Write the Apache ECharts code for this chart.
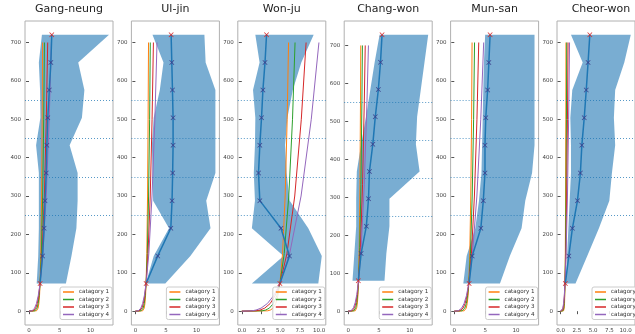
<!DOCTYPE html>
<html><head><meta charset="utf-8">
<script src="https://cdn.jsdelivr.net/npm/echarts@6/dist/echarts.min.js"></script>
<style>html,body{margin:0;padding:0;background:#fff}#c{width:635px;height:334px}</style>
</head><body><div id="c"></div>
<script>
// ---------------- data ----------------
const stations = ['Gang-neung', 'Ul-jin', 'Won-ju', 'Chang-won', 'Mun-san', 'Cheor-won'];
const categories = ['catagory 1', 'catagory 2', 'catagory 3', 'catagory 4'];
const yTickValues = [0, 100, 200, 300, 400, 500, 600, 700];
const xTicksWide = [0, 5, 10];
const xTicksNarrow = [0, 2.5, 5, 7.5, 10];

// measurement heights (y) of the mean profile and spread band
const levelsStd = [72, 144, 216, 288, 360, 432, 504, 576, 648, 720];
const levelsChangwon = [80, 152, 224, 296, 368, 440, 512, 584, 656, 728];
// heights (y) at which category profile curves were read
const curveZStd = [0, 1, 3, 8, 20, 40, 72, 150, 300, 500, 700];
const curveZChangwon = [0, 1, 3, 9, 22, 44, 80, 167, 333, 556, 700];

// Gang-neung
const meanGangneung = [1.8, 2.2, 2.45, 2.6, 2.8, 2.9, 3.05, 3.3, 3.55, 3.7];
const lowGangneung  = [1.25, 1.5, 1.6, 1.6, 1.6, 1.15, 1.85, 1.8, 1.6, 2.1];
const highGangneung = [6.0, 6.9, 7.7, 7.9, 7.9, 6.6, 8.6, 9.0, 8.0, 13.0];
const cat1Gangneung = [0, 1.22, 1.35, 1.48, 1.60, 1.71, 1.80, 1.92, 2.05, 2.14, 2.21];
const cat2Gangneung = [0, 0.96, 1.13, 1.30, 1.49, 1.65, 1.80, 2.01, 2.22, 2.39, 2.51];
const cat3Gangneung = [0, 0.67, 0.87, 1.09, 1.34, 1.57, 1.80, 2.13, 2.50, 2.81, 3.04];
const cat4Gangneung = [0, 0.48, 0.67, 0.91, 1.21, 1.50, 1.80, 2.26, 2.80, 3.28, 3.64];

// Ul-jin
const meanUljin = [1.75, 3.66, 5.8, 6.0, 6.1, 6.17, 6.17, 6.07, 5.96, 5.85];
const lowUljin  = [1.7, 3.0, 5.5, 2.9, 2.8, 2.7, 3.0, 4.0, 4.6, 2.8];
const highUljin = [4.9, 9.0, 12.3, 11.6, 13.1, 13.1, 13.1, 13.1, 11.5, 11.3];
const cat1Uljin = [0, 1.19, 1.31, 1.44, 1.56, 1.66, 1.75, 1.87, 1.99, 2.08, 2.15];
const cat2Uljin = [0, 0.93, 1.10, 1.27, 1.45, 1.60, 1.75, 1.95, 2.16, 2.33, 2.44];
const cat3Uljin = [0, 0.65, 0.84, 1.06, 1.30, 1.53, 1.75, 2.07, 2.43, 2.73, 2.95];
const cat4Uljin = [0, 0.47, 0.65, 0.89, 1.18, 1.46, 1.75, 2.20, 2.72, 3.19, 3.54];

// Won-ju
const meanWonju = [4.93, 6.17, 5.07, 2.33, 2.16, 2.33, 2.55, 2.73, 3.0, 3.2];
const lowWonju  = [1.3, 5.4, 1.3, 1.7, 1.55, 1.7, 1.75, 1.45, 2.3, 1.75];
const highWonju = [9.9, 10.35, 8.6, 6.2, 5.8, 5.6, 5.9, 6.6, 7.7, 9.3];
const cat1Wonju = [0, 3.35, 3.70, 4.05, 4.39, 4.67, 4.93, 5.27, 5.61, 5.87, 6.05];
const cat2Wonju = [0, 2.63, 3.09, 3.57, 4.08, 4.52, 4.93, 5.49, 6.08, 6.56, 6.89];
const cat3Wonju = [0, 1.84, 2.37, 2.97, 3.67, 4.30, 4.93, 5.84, 6.85, 7.70, 8.32];
const cat4Wonju = [0, 1.31, 1.84, 2.49, 3.31, 4.11, 4.93, 6.19, 7.67, 8.99, 9.98];

// Chang-won
const meanChangwon = [1.64, 2.1, 2.95, 3.3, 3.45, 4.0, 4.4, 4.9, 5.25, 5.5];
const lowChangwon  = [0.7, 1.0, 1.3, 1.3, 1.4, 2.1, 2.9, 3.6, 4.3, 5.1];
const highChangwon = [5.9, 6.2, 6.7, 6.7, 11.6, 11.0, 11.2, 11.8, 12.4, 13.0];
const cat1Changwon = [0, 1.14, 1.26, 1.38, 1.50, 1.59, 1.68, 1.79, 1.91, 2.00, 2.04];
const cat2Changwon = [0, 0.90, 1.05, 1.22, 1.39, 1.54, 1.68, 1.87, 2.07, 2.23, 2.31];
const cat3Changwon = [0, 0.63, 0.81, 1.01, 1.25, 1.47, 1.68, 1.99, 2.33, 2.62, 2.77];
const cat4Changwon = [0, 0.45, 0.63, 0.85, 1.13, 1.40, 1.68, 2.11, 2.61, 3.06, 3.29];

// Mun-san
const meanMunsan = [2.4, 2.9, 4.3, 4.7, 4.97, 4.97, 5.1, 5.4, 5.6, 5.8];
const lowMunsan  = [1.46, 2.0, 3.4, 4.0, 4.4, 4.5, 4.6, 4.7, 4.8, 5.0];
const highMunsan = [7.4, 9.0, 10.9, 11.5, 12.6, 13.0, 13.0, 13.0, 13.0, 13.0];
const cat1Munsan = [0, 1.60, 1.76, 1.93, 2.09, 2.23, 2.35, 2.51, 2.67, 2.80, 2.88];
const cat2Munsan = [0, 1.25, 1.47, 1.70, 1.95, 2.15, 2.35, 2.62, 2.90, 3.13, 3.28];
const cat3Munsan = [0, 0.88, 1.13, 1.42, 1.75, 2.05, 2.35, 2.78, 3.26, 3.67, 3.96];
const cat4Munsan = [0, 0.63, 0.88, 1.19, 1.58, 1.96, 2.35, 2.95, 3.66, 4.29, 4.76];

// Cheor-won
const meanCheorwon = [0.73, 1.27, 1.82, 2.6, 3.05, 3.27, 3.64, 3.95, 4.23, 4.5];
const lowCheorwon  = [0.75, 1.0, 1.2, 1.4, 1.6, 1.6, 1.5, 1.8, 3.4, 1.6];
const highCheorwon = [2.3, 4.1, 5.9, 7.5, 7.9, 8.4, 8.2, 8.4, 9.8, 10.8];
const cat1Cheorwon = [0, 0.46, 0.51, 0.56, 0.61, 0.64, 0.68, 0.73, 0.77, 0.81, 0.83];
const cat2Cheorwon = [0, 0.36, 0.43, 0.49, 0.56, 0.62, 0.68, 0.76, 0.84, 0.90, 0.95];
const cat3Cheorwon = [0, 0.25, 0.33, 0.41, 0.51, 0.59, 0.68, 0.81, 0.94, 1.06, 1.15];
const cat4Cheorwon = [0, 0.18, 0.25, 0.34, 0.46, 0.57, 0.68, 0.85, 1.06, 1.24, 1.38];

const refLines = [250, 350, 450, 550];

// ---------------- assembly ----------------
const panels = [
  {levels: levelsStd, z: curveZStd, mean: meanGangneung, low: lowGangneung, high: highGangneung, cats: [cat1Gangneung, cat2Gangneung, cat3Gangneung, cat4Gangneung]},
  {levels: levelsStd, z: curveZStd, mean: meanUljin, low: lowUljin, high: highUljin, cats: [cat1Uljin, cat2Uljin, cat3Uljin, cat4Uljin]},
  {levels: levelsStd, z: curveZStd, mean: meanWonju, low: lowWonju, high: highWonju, cats: [cat1Wonju, cat2Wonju, cat3Wonju, cat4Wonju]},
  {levels: levelsChangwon, z: curveZChangwon, mean: meanChangwon, low: lowChangwon, high: highChangwon, cats: [cat1Changwon, cat2Changwon, cat3Changwon, cat4Changwon]},
  {levels: levelsStd, z: curveZStd, mean: meanMunsan, low: lowMunsan, high: highMunsan, cats: [cat1Munsan, cat2Munsan, cat3Munsan, cat4Munsan]},
  {levels: levelsStd, z: curveZStd, mean: meanCheorwon, low: lowCheorwon, high: highCheorwon, cats: [cat1Cheorwon, cat2Cheorwon, cat3Cheorwon, cat4Cheorwon]}
];

// layout (pixels / axis extents)
const gridLeft = [25, 131.4, 237.8, 344.2, 450.6, 557];
const gridW = 88, gridTop = 21, gridH = 304;
const xMin = [-0.65, -0.655, -0.52, -0.65, -0.6, -0.55];
const xMax = [13.65, 13.755, 10.87, 13.65, 13.66, 11.45];
const yMin = [-36, -36, -36, -36.4, -36, -36];
const yMax = [756, 756, 756, 764.4, 756, 756];
const xTickSets = [xTicksWide, xTicksWide, xTicksNarrow, xTicksWide, xTicksWide, xTicksNarrow];
const catColors = ['#ff7f0e', '#2ca02c', '#d62728', '#9467bd'];
const FONT = 'DejaVu Sans';
const xSymbol = 'path://M1,0 L5,4 L9,0 L10,1 L6,5 L10,9 L9,10 L5,6 L1,10 L0,9 L4,5 L0,1 Z';

const series = [];
panels.forEach((p, i) => {
  series.push({
    type: 'custom', xAxisIndex: i, yAxisIndex: i, silent: true, z: 1,
    data: [[p.low[0], p.levels[0]]],
    renderItem: function (params, api) {
      const pts = [];
      for (let j = 0; j < p.levels.length; j++) pts.push(api.coord([p.low[j], p.levels[j]]));
      for (let j = p.levels.length - 1; j >= 0; j--) pts.push(api.coord([p.high[j], p.levels[j]]));
      return {type: 'polygon', shape: {points: pts}, style: {fill: 'rgba(31,119,180,0.6)'}};
    }
  });
  p.cats.forEach((c, k) => {
    series.push({
      type: 'line', name: categories[k], xAxisIndex: i, yAxisIndex: i, z: 3,
      data: c.map((x, j) => [x, p.z[j]]),
      showSymbol: false, symbol: 'none', smooth: false,
      lineStyle: {color: catColors[k], width: 1}, itemStyle: {color: catColors[k]}
    });
  });
  series.push({
    type: 'line', name: 'mean', xAxisIndex: i, yAxisIndex: i, z: 4,
    data: p.mean.map((x, j) => ({
      value: [x, p.levels[j]],
      itemStyle: {color: (j === p.levels.length - 1 || j === 0) ? '#d62728' : '#3c3f8c'}
    })),
    symbol: xSymbol, symbolSize: 5,
    lineStyle: {color: '#1f77b4', width: 1.5},
    markLine: {
      silent: true, symbol: ['none', 'none'], label: {show: false},
      lineStyle: {type: [1, 2], color: '#1f77b4', width: 1, opacity: 0.75},
      data: refLines.map(v => ({yAxis: v}))
    }
  });
});

const option = {
  animation: false,
  backgroundColor: '#ffffff',
  title: stations.map((s, i) => ({
    text: s, left: gridLeft[i] + gridW / 2, top: 4, textAlign: 'center', padding: 0,
    textStyle: {fontFamily: FONT, fontSize: 11, fontWeight: 'normal', color: '#222'}
  })),
  grid: stations.map((s, i) => ({
    left: gridLeft[i], top: gridTop, width: gridW, height: gridH,
    show: true, borderColor: '#b0b0b0', borderWidth: 1, backgroundColor: 'transparent'
  })),
  xAxis: stations.map((s, i) => ({
    type: 'value', gridIndex: i, min: xMin[i], max: xMax[i],
    splitLine: {show: false}, axisLine: {show: false},
    axisTick: {show: true, length: 3, customValues: xTickSets[i], lineStyle: {color: '#555'}},
    axisLabel: {customValues: xTickSets[i], fontSize: 5.5, color: '#444', margin: 3, fontFamily: FONT,
      formatter: v => (xTickSets[i] === xTicksNarrow ? v.toFixed(1) : String(v))}
  })),
  yAxis: stations.map((s, i) => ({
    type: 'value', gridIndex: i, min: yMin[i], max: yMax[i],
    splitLine: {show: false}, axisLine: {show: false},
    axisTick: {show: true, length: 3, customValues: yTickValues, lineStyle: {color: '#555'}},
    axisLabel: {customValues: yTickValues, fontSize: 5.5, color: '#444', margin: 4, fontFamily: FONT}
  })),
  legend: stations.map((s, i) => ({
    data: categories, orient: 'vertical', left: gridLeft[i] + 35, top: 287,
    itemWidth: 11, itemHeight: 1.5, itemGap: 1.5, icon: 'rect', selectedMode: false,
    textStyle: {fontSize: 5.6, color: '#333', fontFamily: FONT},
    backgroundColor: 'rgba(255,255,255,0.85)', borderColor: '#cccccc', borderWidth: 1, borderRadius: 2,
    padding: [2, 3, 2, 3]
  })),
  series: series
};

const chart = echarts.init(document.getElementById('c'), null, {renderer: 'canvas'});
chart.setOption(option);
</script>
</body></html>
